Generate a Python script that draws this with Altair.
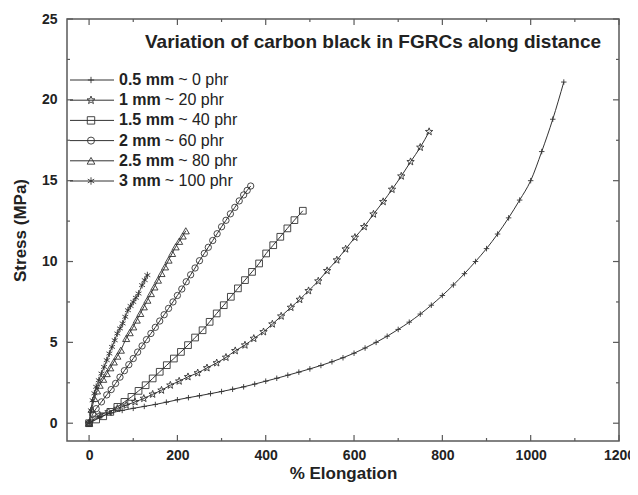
import math
import altair as alt
import pandas as pd

# ---------------- data ----------------
series = ["0.5 mm ~ 0 phr", "1 mm ~ 20 phr", "1.5 mm ~ 40 phr",
          "2 mm ~ 60 phr", "2.5 mm ~ 80 phr", "3 mm ~ 100 phr"]
bold_part = ["0.5 mm", "1 mm", "1.5 mm", "2 mm", "2.5 mm", "3 mm"]
regular_part = ["~ 0 phr", "~ 20 phr", "~ 40 phr", "~ 60 phr", "~ 80 phr", "~ 100 phr"]

x_05 = [0, 25, 50, 75, 100, 125, 150, 175, 200, 225, 250, 275, 300, 325, 350, 375,
        400, 425, 450, 475, 500, 525, 550, 575, 600, 625, 650, 675, 700, 725, 750,
        775, 800, 825, 850, 875, 900, 925, 950, 975, 1000, 1025, 1050, 1075]
y_05 = [0, 0.4, 0.63, 0.79, 0.92, 1.04, 1.16, 1.3, 1.45, 1.58, 1.7, 1.83, 1.96, 2.1,
        2.25, 2.42, 2.6, 2.78, 2.97, 3.16, 3.36, 3.57, 3.8, 4.05, 4.33, 4.65, 5.0,
        5.38, 5.8, 6.25, 6.75, 7.3, 7.9, 8.55, 9.25, 10.0, 10.8, 11.7, 12.7, 13.8,
        15.0, 16.8, 18.8, 21.1]

x_1 = [0, 24, 44, 64, 84, 104, 124, 144, 164, 184, 204, 224, 246, 267, 289, 310,
       331, 353, 373, 395, 415, 435, 457, 477, 497, 519, 539, 561, 581, 602, 623,
       644, 666, 686, 707, 728, 750, 770]
y_1 = [0, 0.5, 0.7, 0.91, 1.11, 1.32, 1.53, 1.79, 2.04, 2.35, 2.6, 2.87, 3.11, 3.42,
       3.73, 4.07, 4.48, 4.83, 5.24, 5.65, 6.13, 6.62, 7.16, 7.65, 8.19, 8.79, 9.43,
       10.09, 10.77, 11.49, 12.15, 12.93, 13.7, 14.46, 15.28, 16.17, 17.06, 18.03]

x_15 = [0, 16, 32, 48, 64, 80, 96, 112, 128, 144, 160, 176, 192, 208, 224, 240,
        257, 273, 289, 305, 321, 337, 353, 369, 385, 401, 417, 433, 449, 465, 484]
y_15 = [0, 0.23, 0.43, 0.7, 1.01, 1.32, 1.63, 2.0, 2.35, 2.77, 3.18, 3.59, 4.0, 4.41,
        4.83, 5.3, 5.75, 6.27, 6.79, 7.3, 7.82, 8.34, 8.85, 9.36, 9.88, 10.5, 11.01,
        11.53, 12.05, 12.56, 13.14]

x_2 = [0, 8, 16, 28, 40, 50, 60, 70, 80, 90, 100, 110, 120, 130, 140, 150, 160, 170,
       180, 190, 200, 210, 220, 230, 240, 250, 261, 270, 280, 290, 300, 310, 320,
       330, 340, 350, 358, 366]
y_2 = [0, 0.55, 0.9, 1.32, 1.75, 2.08, 2.46, 2.85, 3.25, 3.62, 4.0, 4.4, 4.78, 5.17,
       5.55, 5.93, 6.32, 6.71, 7.1, 7.5, 7.9, 8.3, 8.75, 9.18, 9.6, 10.05, 10.5,
       10.88, 11.3, 11.72, 12.15, 12.55, 12.95, 13.35, 13.75, 14.12, 14.4, 14.67]

x_25 = [0, 6, 12, 18, 24, 32, 40, 48, 56, 64, 72, 84, 92, 100, 108, 116, 124, 132,
        140, 148, 156, 164, 172, 180, 188, 196, 204, 212, 219]
y_25 = [0, 0.85, 1.53, 2.0, 2.35, 2.72, 3.07, 3.43, 3.79, 4.15, 4.52, 5.24, 5.6,
        5.96, 6.38, 6.79, 7.2, 7.61, 8.02, 8.43, 8.85, 9.26, 9.67, 10.09, 10.5,
        10.91, 11.25, 11.58, 11.9]

x_3 = [0, 4, 8, 12, 16, 22, 28, 34, 40, 46, 52, 58, 64, 70, 76, 82, 88, 94, 100,
       106, 112, 120, 126, 132]
y_3 = [0, 0.8, 1.42, 1.85, 2.25, 2.66, 3.07, 3.48, 3.9, 4.31, 4.72, 5.13, 5.55,
       5.86, 6.17, 6.58, 6.99, 7.25, 7.5, 7.76, 8.02, 8.54, 8.85, 9.16]

xs_all = [x_05, x_1, x_15, x_2, x_25, x_3]
ys_all = [y_05, y_1, y_15, y_2, y_25, y_3]

x_major = [0, 200, 400, 600, 800, 1000, 1200]
x_minor = [100, 300, 500, 700, 900, 1100]
y_major = [0, 5, 10, 15, 20, 25]
y_minor = [2.5, 7.5, 12.5, 17.5, 22.5]

title_text = "Variation of carbon black in FGRCs along distance"

# ---------------- styling ----------------
FONT = "Liberation Sans"
INK = "#333333"
FRAME = "#5a5a5a"
W, H = 552, 422


def star_path():
    pts = []
    for k in range(10):
        r = 1.0 if k % 2 == 0 else 0.42
        a = -math.pi / 2 + k * math.pi / 5
        pts.append(f"{r * math.cos(a):.3f},{r * math.sin(a):.3f}")
    return "M" + "L".join(pts) + "Z"


plus_path = "M0,-1L0,1M-1,0L1,0"
ast_path = "M0,-1L0,1M-0.87,-0.5L0.87,0.5M-0.87,0.5L0.87,-0.5"
shape_range = [plus_path, star_path(), "square", "circle", "triangle-up", ast_path]
size_px = [30, 60, 45, 40, 50, 45]

xscale = alt.Scale(domain=[-50, 1200], nice=False, zero=False)
yscale = alt.Scale(domain=[-1.1, 25], nice=False, zero=False)

x_main_axis = alt.Axis(values=x_major, ticks=False, domain=False, grid=False,
                       labelFont=FONT, labelFontSize=14, labelFontWeight="bold",
                       labelColor="#222", labelPadding=7, labelFlush=False,
                       labelOverlap=False, title="% Elongation",
                       titleFont=FONT, titleFontSize=17, titleFontWeight="bold",
                       titleColor="#222", titlePadding=3, format="d")
y_main_axis = alt.Axis(values=y_major, ticks=False, domain=False, grid=False,
                       labelFont=FONT, labelFontSize=14, labelFontWeight="bold",
                       labelColor="#222", labelPadding=10, labelFlush=False,
                       title="Stress (MPa)",
                       titleFont=FONT, titleFontSize=17, titleFontWeight="bold",
                       titleColor="#222", titlePadding=12, format="d")

layers = []

# curves: one line + one point layer per series
for k, name in enumerate(series):
    dk = pd.DataFrame({"x": xs_all[k], "y": ys_all[k], "i": list(range(len(xs_all[k])))})
    ck = alt.Chart(dk)
    if k == 0:
        xenc = alt.X("x:Q", scale=xscale, axis=x_main_axis)
        yenc = alt.Y("y:Q", scale=yscale, axis=y_main_axis)
    else:
        xenc = alt.X("x:Q", scale=xscale)
        yenc = alt.Y("y:Q", scale=yscale)
    layers.append(ck.mark_line(color=INK, strokeWidth=1, interpolate="monotone").encode(
        x=xenc, y=yenc, order="i:Q"))
    layers.append(ck.mark_point(filled=False, color=INK, strokeWidth=0.9, opacity=1,
                                shape=shape_range[k], size=size_px[k]).encode(
        x=alt.X("x:Q", scale=xscale), y=alt.Y("y:Q", scale=yscale)))

# inward ticks on all four sides, placed through the shared scales
tx_major = pd.DataFrame({"v": x_major})
tx_minor = pd.DataFrame({"v": x_minor})
ty_major = pd.DataFrame({"v": y_major})
ty_minor = pd.DataFrame({"v": y_minor})
for dfv, L in ((tx_major, 6), (tx_minor, 3)):
    c = alt.Chart(dfv)
    layers.append(c.mark_rule(color=FRAME, strokeWidth=1.2).encode(
        x=alt.X("v:Q", scale=xscale), y=alt.value(H), y2=alt.value(H - L)))
    layers.append(c.mark_rule(color=FRAME, strokeWidth=1.2).encode(
        x=alt.X("v:Q", scale=xscale), y=alt.value(0), y2=alt.value(L)))
for dfv, L in ((ty_major, 6), (ty_minor, 3)):
    c = alt.Chart(dfv)
    layers.append(c.mark_rule(color=FRAME, strokeWidth=1.2).encode(
        y=alt.Y("v:Q", scale=yscale), x=alt.value(0), x2=alt.value(L)))
    layers.append(c.mark_rule(color=FRAME, strokeWidth=1.2).encode(
        y=alt.Y("v:Q", scale=yscale), x=alt.value(W), x2=alt.value(W - L)))

# inner title
layers.append(alt.Chart(pd.DataFrame({"t": [title_text]})).mark_text(
    font=FONT, fontSize=19, fontWeight="bold", color="#222", align="center",
    baseline="middle").encode(text="t:N", x=alt.value(306), y=alt.value(23)))

# legend
bw = {"0": .556, "1": .556, "2": .556, "3": .556, "5": .556, ".": .278, " ": .278, "m": .889}
LEG_FS = 16
leg_top, leg_dy = 61, 20.2
for k, name in enumerate(series):
    yk = leg_top + k * leg_dy
    dk = pd.DataFrame({"b": [bold_part[k]], "r": [regular_part[k]]})
    cb = alt.Chart(dk)
    layers.append(cb.mark_rule(color=INK, strokeWidth=1).encode(
        x=alt.value(3), x2=alt.value(47), y=alt.value(yk)))
    layers.append(cb.mark_point(filled=False, color=INK, strokeWidth=0.9, opacity=1,
                                shape=shape_range[k], size=size_px[k] + 10).encode(
        x=alt.value(24), y=alt.value(yk)))
    layers.append(cb.mark_text(font=FONT, fontSize=LEG_FS, fontWeight="bold",
                               color="#222", align="left", baseline="middle").encode(
        text="b:N", x=alt.value(52), y=alt.value(yk)))
    wb = sum(bw.get(ch, .6) for ch in bold_part[k]) * LEG_FS
    layers.append(cb.mark_text(font=FONT, fontSize=LEG_FS, fontWeight="normal",
                               color="#222", align="left", baseline="middle").encode(
        text="r:N", x=alt.value(52 + wb + 4), y=alt.value(yk)))

chart = alt.layer(*layers).properties(
    width=W, height=H,
    autosize=alt.AutoSizeParams(type="none"),
    padding={"left": 59, "top": 11, "right": 11, "bottom": 45},
    background="white",
).configure_view(stroke=FRAME, strokeWidth=1.5)

chart.save("out.html", embed_options={"renderer": "svg", "actions": False})
